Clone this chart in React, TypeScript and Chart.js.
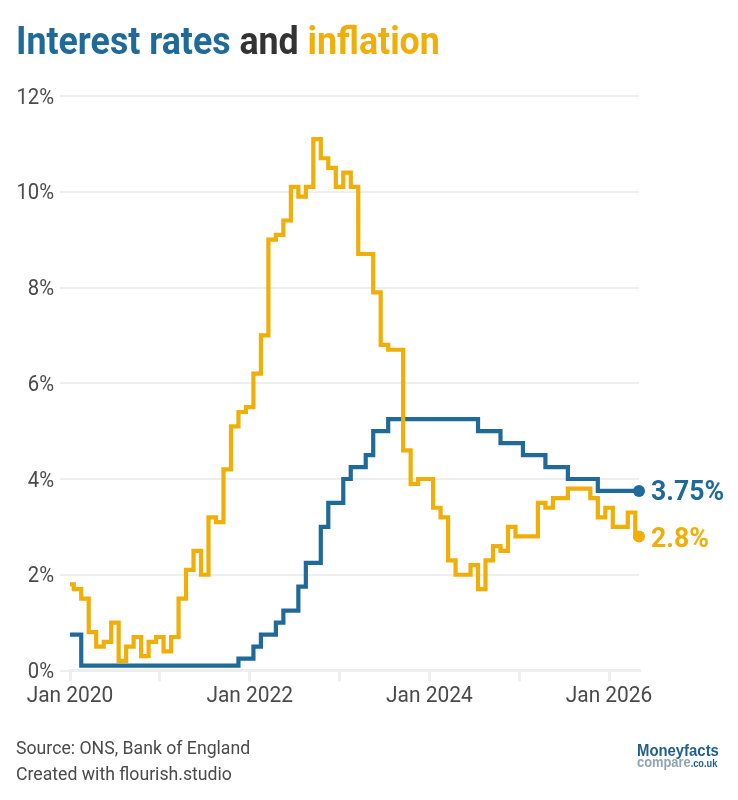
import { useEffect, useRef } from "react";
import { Chart, registerables } from "chart.js";

Chart.register(...registerables);

const months = [
  "Jan 2020", "Feb 2020", "Mar 2020", "Apr 2020", "May 2020", "Jun 2020", "Jul 2020", "Aug 2020", "Sep 2020", "Oct 2020", "Nov 2020", "Dec 2020",
  "Jan 2021", "Feb 2021", "Mar 2021", "Apr 2021", "May 2021", "Jun 2021", "Jul 2021", "Aug 2021", "Sep 2021", "Oct 2021", "Nov 2021", "Dec 2021",
  "Jan 2022", "Feb 2022", "Mar 2022", "Apr 2022", "May 2022", "Jun 2022", "Jul 2022", "Aug 2022", "Sep 2022", "Oct 2022", "Nov 2022", "Dec 2022",
  "Jan 2023", "Feb 2023", "Mar 2023", "Apr 2023", "May 2023", "Jun 2023", "Jul 2023", "Aug 2023", "Sep 2023", "Oct 2023", "Nov 2023", "Dec 2023",
  "Jan 2024", "Feb 2024", "Mar 2024", "Apr 2024", "May 2024", "Jun 2024", "Jul 2024", "Aug 2024", "Sep 2024", "Oct 2024", "Nov 2024", "Dec 2024",
  "Jan 2025", "Feb 2025", "Mar 2025", "Apr 2025", "May 2025", "Jun 2025", "Jul 2025", "Aug 2025", "Sep 2025", "Oct 2025", "Nov 2025", "Dec 2025",
  "Jan 2026", "Feb 2026", "Mar 2026", "Apr 2026", "May 2026",
];

const inflation = [
  1.8, 1.7, 1.5, 0.8, 0.5, 0.6, 1.0, 0.2, 0.5, 0.7, 0.3, 0.6,
  0.7, 0.4, 0.7, 1.5, 2.1, 2.5, 2.0, 3.2, 3.1, 4.2, 5.1, 5.4,
  5.5, 6.2, 7.0, 9.0, 9.1, 9.4, 10.1, 9.9, 10.1, 11.1, 10.7, 10.5,
  10.1, 10.4, 10.1, 8.7, 8.7, 7.9, 6.8, 6.7, 6.7, 4.6, 3.9, 4.0,
  4.0, 3.4, 3.2, 2.3, 2.0, 2.0, 2.2, 1.7, 2.3, 2.6, 2.5, 3.0,
  2.8, 2.8, 2.8, 3.5, 3.4, 3.6, 3.6, 3.8, 3.8, 3.8, 3.6, 3.2,
  3.4, 3.0, 3.0, 3.3, 2.8,
];

const bankRate = [
  0.75, 0.75, 0.1, 0.1, 0.1, 0.1, 0.1, 0.1, 0.1, 0.1, 0.1, 0.1,
  0.1, 0.1, 0.1, 0.1, 0.1, 0.1, 0.1, 0.1, 0.1, 0.1, 0.1, 0.25,
  0.25, 0.5, 0.75, 0.75, 1.0, 1.25, 1.25, 1.75, 2.25, 2.25, 3.0, 3.5,
  3.5, 4.0, 4.25, 4.25, 4.5, 5.0, 5.0, 5.25, 5.25, 5.25, 5.25, 5.25,
  5.25, 5.25, 5.25, 5.25, 5.25, 5.25, 5.25, 5.0, 5.0, 5.0, 4.75, 4.75,
  4.75, 4.5, 4.5, 4.5, 4.25, 4.25, 4.25, 4.0, 4.0, 4.0, 4.0, 3.75,
  3.75, 3.75, 3.75, 3.75, 3.75,
];

const xTickLabels = ["Jan 2020", "Jan 2022", "Jan 2024", "Jan 2026"];
const footerLines = ["Source: ONS, Bank of England", "Created with flourish.studio"];

const BLUE = "#1f6a99";
const ORANGE = "#efae08";
const GRID = "#eeeeee";
const TEXT = "#4a4a4a";

// Roboto is the closest installed font, the original is condensed, so text gets squeezed
function squeezed(ctx, text, x, y, font, color, sx, align = "left") {
  ctx.font = font;
  ctx.fillStyle = color;
  ctx.textAlign = align;
  ctx.textBaseline = "alphabetic";
  const w = ctx.measureText(text).width * sx;
  ctx.fillText(text, x, y, w);
  return w;
}

const textPlugin = {
  id: "textPlugin",
  afterDatasetsDraw(chart) {
    const { ctx, scales } = chart;
    ctx.save();

    // x axis line, runs slightly past both ends
    ctx.strokeStyle = GRID;
    ctx.lineWidth = 3;
    ctx.beginPath();
    ctx.moveTo(scales.x.left - 2, scales.x.top);
    ctx.lineTo(scales.x.right + 2, scales.x.top);
    ctx.stroke();

    scales.y.ticks.forEach((t) => {
      const y = scales.y.getPixelForValue(t.value);
      squeezed(ctx, t.value + "%", 54, y + 7.5, "400 22px Roboto", TEXT, 0.92, "right");
    });
    scales.x.ticks.forEach((t) => {
      const label = months[t.value];
      if (!xTickLabels.includes(label)) return;
      squeezed(ctx, label, scales.x.getPixelForValue(t.value), 702, "400 22px Roboto", TEXT, 0.95, "center");
    });

    // end labels
    const lastX = scales.x.getPixelForValue(months.length - 1);
    squeezed(ctx, bankRate[bankRate.length - 1] + "%", lastX + 12, 500, "700 28px Roboto", BLUE, 0.95);
    squeezed(ctx, inflation[inflation.length - 1] + "%", lastX + 12, 546.5, "700 28px Roboto", ORANGE, 0.95);

    // title in three colours
    let x = 16;
    const titleFont = "700 39px Roboto";
    x += squeezed(ctx, "Interest rates", x, 54, titleFont, BLUE, 0.916);
    x += squeezed(ctx, " and ", x, 54, titleFont, "#333333", 0.916);
    squeezed(ctx, "inflation", x, 54, titleFont, ORANGE, 0.916);

    squeezed(ctx, footerLines[0], 16, 754, "400 19px Roboto", TEXT, 0.93);
    squeezed(ctx, footerLines[1], 16, 780, "400 19px Roboto", TEXT, 0.93);

    // logo
    squeezed(ctx, "Moneyfacts", 637, 756, "700 16px 'Liberation Sans'", "#1f5f8f", 0.93);
    const c = squeezed(ctx, "compare", 637, 767, "700 14px 'Liberation Sans'", "#8fa5b5", 0.92);
    squeezed(ctx, ".co.uk", 637 + c, 767, "700 10px 'Liberation Sans'", "#1f5f8f", 0.92);

    ctx.restore();
  },
};

export default function App() {
  const canvasRef = useRef<HTMLCanvasElement>(null);

  useEffect(() => {
    const chart = new Chart(canvasRef.current, {
      type: "line",
      plugins: [textPlugin],
      data: {
        labels: months,
        datasets: [
          {
            label: "Inflation",
            data: inflation,
            borderColor: ORANGE,
            backgroundColor: ORANGE,
            borderWidth: 4.2,
            stepped: "middle",
            borderJoinStyle: "miter",
            clip: false,
            pointRadius: (c) => (c.dataIndex === inflation.length - 1 ? 6 : 0),
            pointBorderWidth: 0,
          },
          {
            label: "Bank Rate",
            data: bankRate,
            borderColor: BLUE,
            backgroundColor: BLUE,
            borderWidth: 4.2,
            stepped: "middle",
            borderJoinStyle: "miter",
            clip: false,
            pointRadius: (c) => (c.dataIndex === bankRate.length - 1 ? 6 : 0),
            pointBorderWidth: 0,
          },
        ],
      },
      options: {
        animation: false,
        responsive: false,
        devicePixelRatio: 1,
        layout: { padding: { left: 70, right: 99, top: 96, bottom: 129.5 } },
        plugins: { legend: { display: false }, tooltip: { enabled: false } },
        scales: {
          x: {
            type: "category",
            afterBuildTicks: (s) => {
              s.ticks = s.ticks.filter((t) => t.value % 12 === 0);
            },
            afterFit: (s) => {
              s.height = 0;
            },
            border: { display: false },
            grid: { drawOnChartArea: false, color: GRID, lineWidth: 3, tickLength: 11 },
            ticks: { display: false, autoSkip: false },
          },
          y: {
            min: 0,
            max: 12,
            afterFit: (s) => {
              s.width = 0;
            },
            border: { display: false },
            grid: { color: GRID, lineWidth: 2, tickLength: 10 },
            ticks: { display: false, stepSize: 2 },
          },
        },
      },
    });
    return () => chart.destroy();
  }, []);

  return (
    <div style={{ position: "absolute", left: 0, top: 0, width: 738, height: 800, background: "#fff" }}>
      <canvas ref={canvasRef} width={738} height={800} style={{ display: "block" }} />
    </div>
  );
}
